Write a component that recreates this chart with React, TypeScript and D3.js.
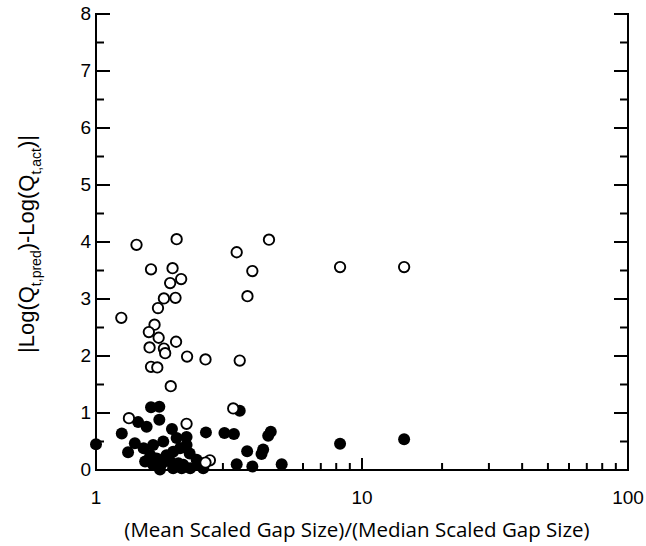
import React from "react";
import * as d3 from "d3";

const openX = [1.42, 2.01, 4.47, 3.38, 1.61, 1.94, 3.87, 2.09, 1.9, 1.8, 1.99, 3.71, 1.71, 1.245, 1.66, 1.58, 1.72, 2.0, 1.59, 1.8, 1.82, 2.2, 2.58, 3.47, 1.61, 1.7, 1.91, 8.27, 14.4, 1.33, 2.19, 3.28, 2.68, 2.58];
const openY = [3.95, 4.05, 4.04, 3.82, 3.52, 3.54, 3.49, 3.35, 3.28, 3.01, 3.02, 3.05, 2.84, 2.67, 2.55, 2.42, 2.32, 2.25, 2.15, 2.13, 2.05, 1.99, 1.94, 1.92, 1.81, 1.8, 1.47, 3.56, 3.56, 0.91, 0.81, 1.08, 0.17, 0.13];

const filledX = [1.0, 1.25, 1.32, 1.44, 1.61, 1.73, 1.73, 1.55, 1.93, 2.59, 3.04, 3.3, 3.47, 4.54, 4.44, 3.7, 4.25, 4.19, 3.38, 3.87, 4.99, 2.55, 1.4, 1.51, 1.64, 1.79, 2.01, 2.19, 2.19, 1.6, 1.69, 1.84, 1.95, 2.07, 2.25, 1.53, 1.64, 1.77, 1.9, 2.04, 2.13, 2.39, 2.46, 1.74, 1.95, 2.1, 2.26, 2.53, 8.27, 14.4];
const filledY = [0.45, 0.64, 0.31, 0.84, 1.1, 1.11, 0.88, 0.76, 0.72, 0.66, 0.65, 0.63, 1.04, 0.67, 0.6, 0.33, 0.36, 0.28, 0.1, 0.06, 0.1, 0.12, 0.47, 0.38, 0.44, 0.5, 0.56, 0.58, 0.44, 0.26, 0.2, 0.26, 0.32, 0.38, 0.29, 0.15, 0.09, 0.12, 0.15, 0.12, 0.09, 0.18, 0.09, 0.01, 0.03, 0.03, 0.03, 0.03, 0.46, 0.54];

const xTickLabels = [1, 10, 100];
const yTickLabels = [0, 1, 2, 3, 4, 5, 6, 7, 8];

export default function App() {
  const W = 646, H = 546;
  const left = 96, right = 628, top = 14, bottom = 470;
  const x = d3.scaleLog().domain([1, 100]).range([left, right]);
  const y = d3.scaleLinear().domain([0, 8]).range([bottom, top]);

  const xMinor: number[] = [];
  [1, 10].forEach((d) => {
    for (let k = 2; k <= 9; k++) xMinor.push(d * k);
  });
  const yMinor = d3.range(0.5, 8, 1);

  const tickFont = "'Liberation Sans', Arial, sans-serif";

  return (
    <svg width={W} height={H} style={{ position: "absolute", left: 0, top: 0, background: "#fff" }}>
      <rect width={W} height={H} fill="#fff" />
      {filledX.map((d, i) => (
        <circle key={"f" + i} cx={x(d)} cy={y(filledY[i])} r={6} fill="#000" />
      ))}
      {openX.map((d, i) => (
        <circle key={"o" + i} cx={x(d)} cy={y(openY[i])} r={5.2} fill="#fff" stroke="#000" strokeWidth={1.9} />
      ))}
      <g stroke="#000" strokeWidth={2} fill="none">
        <line x1={left} y1={top - 1} x2={left} y2={bottom + 1} />
        <line x1={right} y1={top - 1} x2={right} y2={bottom + 1} />
        <line x1={left - 1} y1={bottom} x2={right + 1} y2={bottom} />
        {xTickLabels.map((d) => (
          <line key={"xM" + d} x1={x(d)} x2={x(d)} y1={bottom} y2={bottom - 12} />
        ))}
        {xMinor.map((d) => (
          <line key={"xm" + d} x1={x(d)} x2={x(d)} y1={bottom} y2={bottom - 7} />
        ))}
        {yTickLabels.map((d) => (
          <g key={"yM" + d}>
            <line x1={left} x2={left + 14} y1={y(d)} y2={y(d)} />
            <line x1={right} x2={right - 14} y1={y(d)} y2={y(d)} />
          </g>
        ))}
        {yMinor.map((d) => (
          <g key={"ym" + d}>
            <line x1={left} x2={left + 8} y1={y(d)} y2={y(d)} />
            <line x1={right} x2={right - 8} y1={y(d)} y2={y(d)} />
          </g>
        ))}
      </g>
      {yTickLabels.map((d) => (
        <text key={"yl" + d} x={91} y={y(d) + 6} textAnchor="end" fontFamily={tickFont} fontSize={19} fill="#000">
          {d}
        </text>
      ))}
      {xTickLabels.map((d) => (
        <text key={"xl" + d} x={x(d)} y={504} textAnchor="middle" fontFamily={tickFont} fontSize={19} fill="#000">
          {d}
        </text>
      ))}
      <text x={357} y={537} textAnchor="middle" fontFamily="'Open Sans', 'Noto Sans', sans-serif" fontSize={20.5} fill="#000">
        (Mean Scaled Gap Size)/(Median Scaled Gap Size)
      </text>
      <text transform="translate(34,244) rotate(-90)" textAnchor="middle" fontFamily={tickFont} fontSize={22} fill="#000">
        <tspan>|Log(Q</tspan>
        <tspan fontSize={14} dy={7}>t,pred</tspan>
        <tspan dy={-7}>)-Log(Q</tspan>
        <tspan fontSize={14} dy={7}>t,act</tspan>
        <tspan dy={-7}>)|</tspan>
      </text>
    </svg>
  );
}
